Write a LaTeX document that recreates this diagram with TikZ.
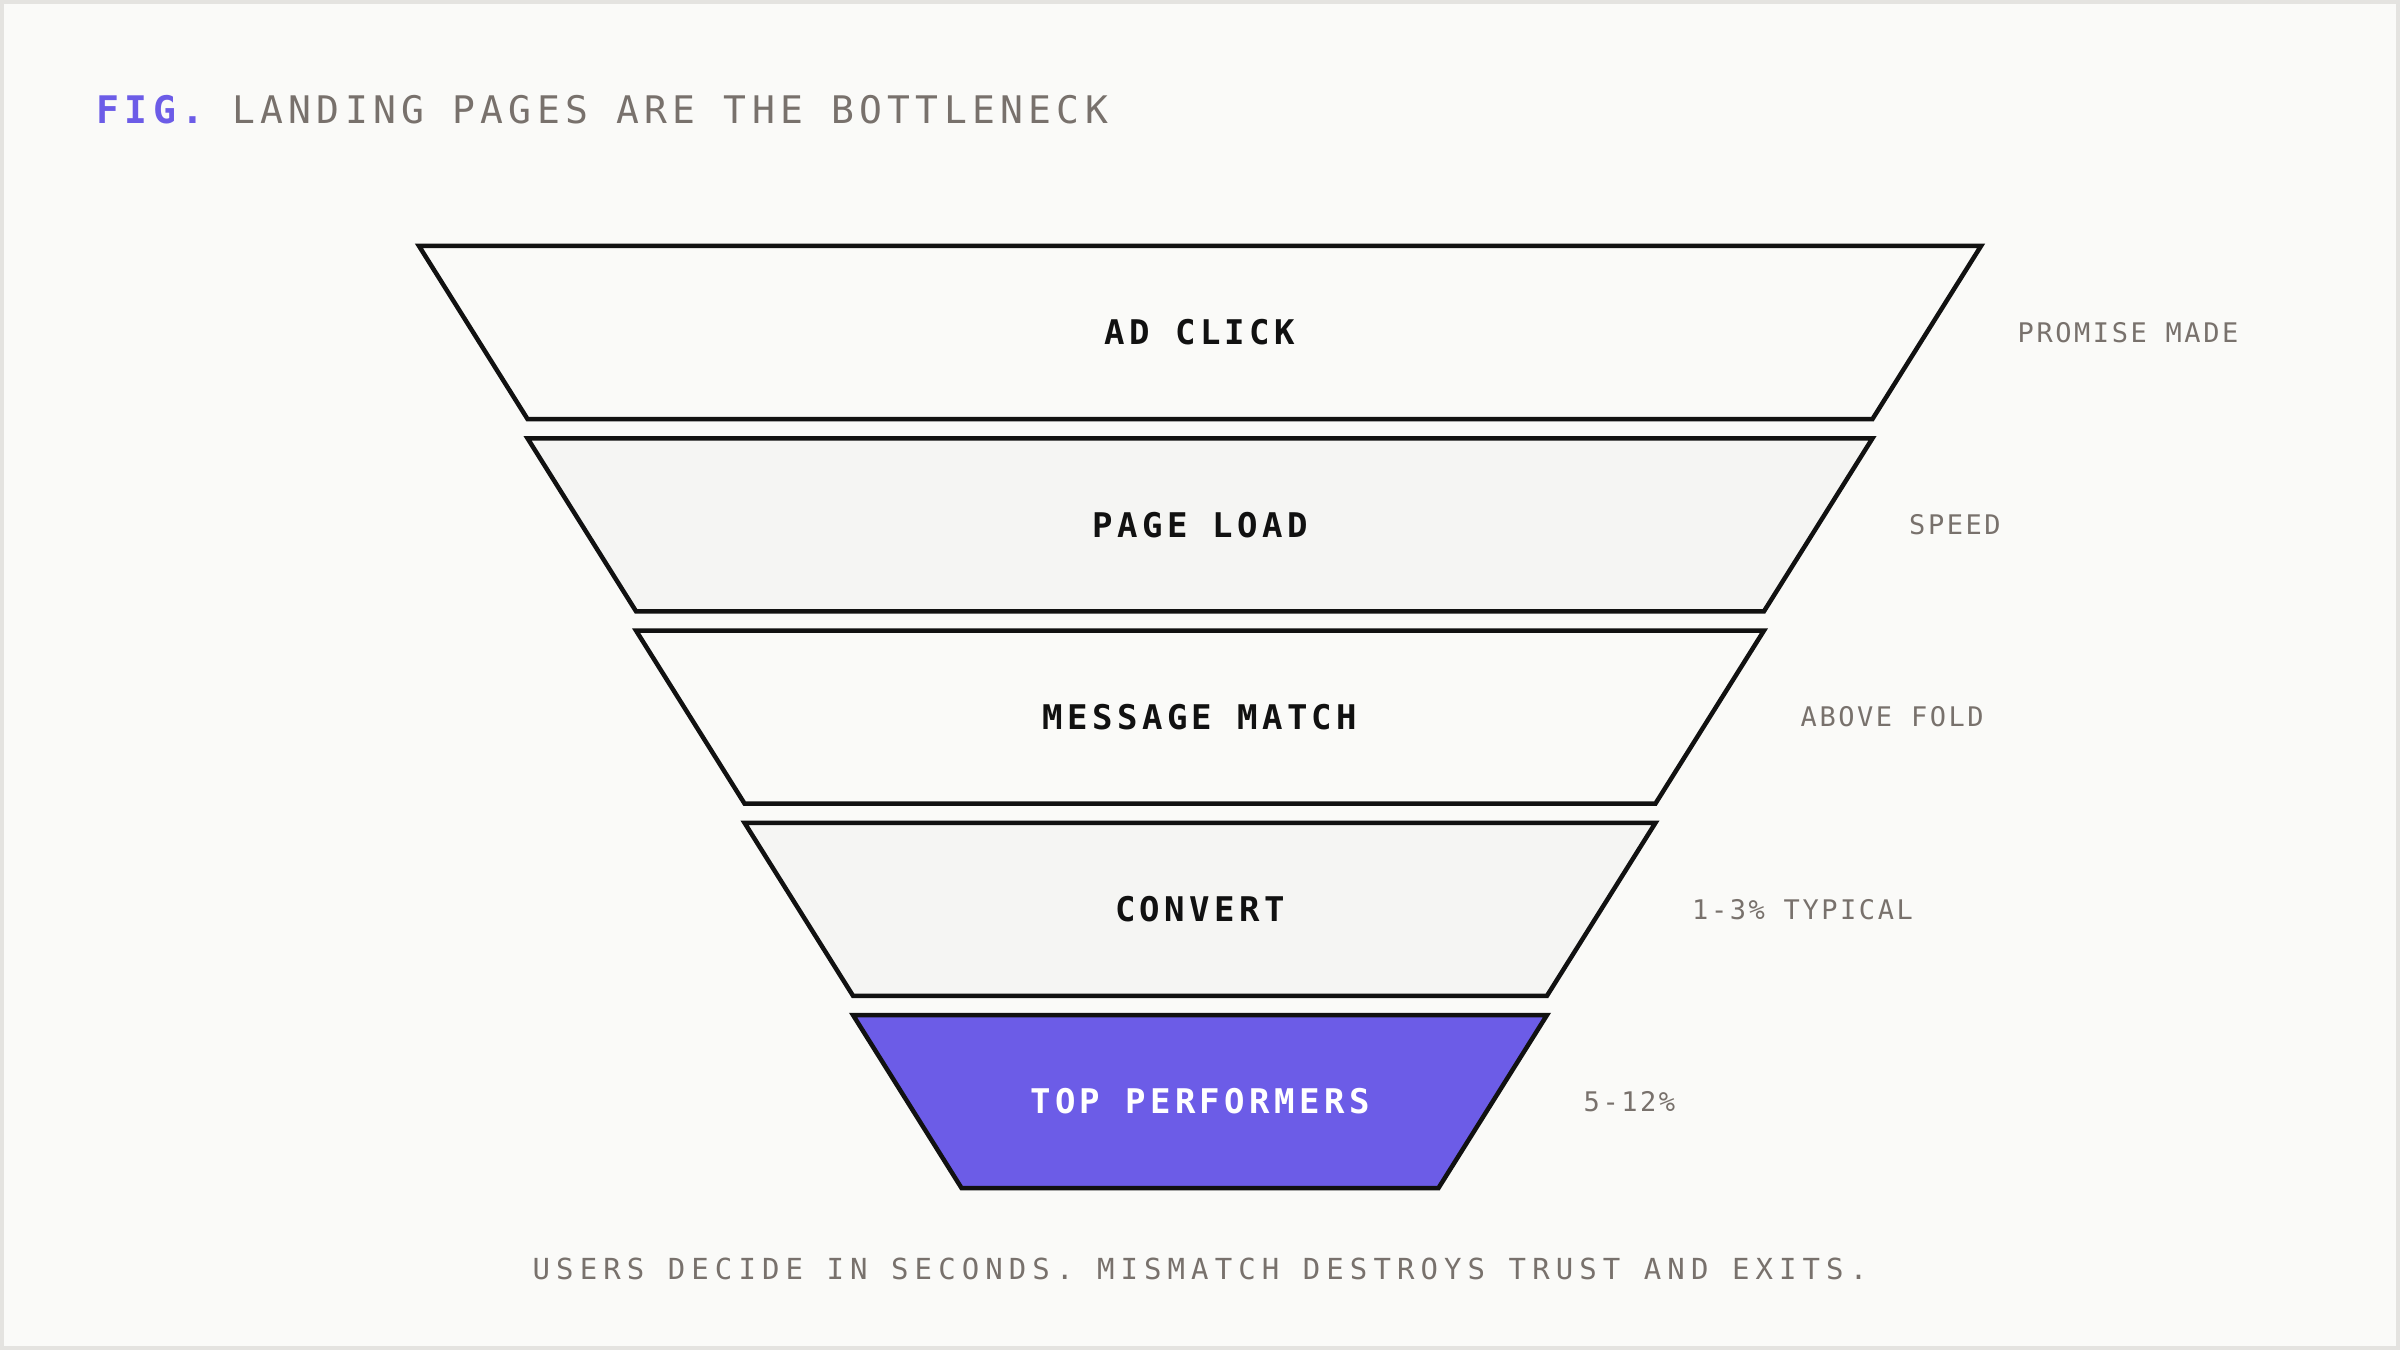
\documentclass[tikz,border=0pt]{standalone}
\usepackage{fontspec}
\setmonofont{DejaVu Sans Mono}
\newfontfamily\titlefont[LetterSpace=14]{DejaVu Sans Mono}
\newfontfamily\bandfont[LetterSpace=13]{DejaVu Sans Mono}
\newfontfamily\sidefont[LetterSpace=9.5]{DejaVu Sans Mono}
\newfontfamily\capfont[LetterSpace=21]{DejaVu Sans Mono}
\definecolor{bg}{HTML}{FAFAF8}
\definecolor{framec}{HTML}{E4E3E0}
\definecolor{bandA}{HTML}{FAFAF8}
\definecolor{bandB}{HTML}{F5F5F3}
\definecolor{accent}{HTML}{6C5CE7}
\definecolor{ink}{HTML}{111111}
\definecolor{muted}{HTML}{78716C}
\begin{document}
\begin{tikzpicture}[x=0.3pt,y=-0.3pt,
  bandline/.style={draw=ink, line width=1.35pt, line join=miter},
  bandlabel/.style={font=\bandfont\bfseries\fontsize{10.2pt}{12pt}\selectfont, inner sep=0pt, anchor=center},
  sidelabel/.style={font=\sidefont\fontsize{8.1pt}{10pt}\selectfont, text=muted, inner sep=0pt, anchor=west},
  titlelabel/.style={font=\titlefont\fontsize{11.4pt}{13pt}\selectfont, inner sep=0pt, anchor=base west},
  caplabel/.style={font=\capfont\fontsize{8.7pt}{10pt}\selectfont, text=muted, inner sep=0pt, anchor=center}]
\fill[bg] (0,0) rectangle (2400,1350);
\draw[framec, line width=1.2pt] (2,2) rectangle (2398,1348);
\useasboundingbox (0,0) rectangle (2400,1350);
\node[titlelabel] (title) at (96,124) {\textcolor{accent}{\bfseries FIG.} \textcolor{muted}{LANDING PAGES ARE THE BOTTLENECK}};
\foreach \i/\lab/\fc/\tc/\side in {0/AD CLICK/bandA/ink/PROMISE MADE,1/PAGE LOAD/bandB/ink/SPEED,2/MESSAGE MATCH/bandA/ink/ABOVE FOLD,3/CONVERT/bandB/ink/1-3\% TYPICAL,4/TOP PERFORMERS/accent/white/5-12\%}{
  \pgfmathsetmacro{\yt}{246+192.25*\i}
  \pgfmathsetmacro{\yb}{\yt+173}
  \pgfmathsetmacro{\wt}{781-108.5*\i}
  \pgfmathsetmacro{\wb}{\wt-108.5}
  \pgfmathsetmacro{\yc}{\yt+86.5}
  \draw[bandline, fill=\fc] (1200-\wt,\yt) -- (1200+\wt,\yt) -- (1200+\wb,\yb) -- (1200-\wb,\yb) -- cycle;
  \node[bandlabel, text=\tc] (band\i) at (1200,\yc) {\lab};
  \node[sidelabel] (side\i) at (1200+\wt+36,\yc) {\side};
}
\node[caplabel] (caption) at (1200,1269) {USERS DECIDE IN SECONDS. MISMATCH DESTROYS TRUST AND EXITS.};
\end{tikzpicture}
\end{document}
